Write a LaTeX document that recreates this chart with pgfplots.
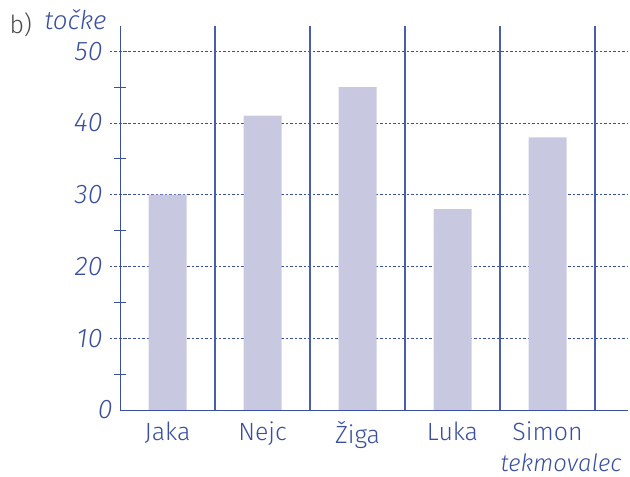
\documentclass[border=0pt]{standalone}
\usepackage{pgfplots}
\pgfplotsset{compat=1.18}
\usepackage{fontspec}
\setmainfont{Fira Sans}[UprightFont=* Light, ItalicFont=* Light Italic]
\definecolor{axblue}{HTML}{3A4FA0}
\definecolor{barc}{HTML}{C8C8E0}
\definecolor{sepblue}{HTML}{4A5EAE}
\begin{document}
\begin{tikzpicture}
\useasboundingbox (-120bp,-67bp) rectangle (510bp,410bp);
\begin{axis}[
  scale only axis, width=508bp, height=384bp,
  xmin=-0.5, xmax=4.847, ymin=0, ymax=53.5,
  clip=false,
  /pgf/number format/assume math mode=true,
  axis lines=left,
  axis line style={axblue, line width=0.9pt, -},
  xtick={0,1,2,3,4},
  xticklabels={Jaka,Nejc,Žiga,Luka,Simon},
  xtick style={draw=none},
  xticklabel style={axblue, font=\fontsize{25}{28}\selectfont, yshift=2bp},
  ytick={10,20,30,40,50},
  minor ytick={5,15,25,35,45},
  tick align=center,
  major tick length=20bp,
  minor tick length=12bp,
  major tick style={axblue, dash pattern=on 2.5pt off 2pt, line width=0.6pt},
  minor tick style={axblue, solid, line width=0.8pt},
  ymajorgrids,
  major grid style={axblue, dash pattern=on 2.5pt off 2pt, line width=0.6pt},
  yticklabel style={axblue, font=\fontsize{27}{30}\selectfont\itshape, xshift=-4bp},
  extra y ticks={0},
  extra y tick style={ymajorgrids=false, major tick length=0pt},
  extra x ticks={0.5,1.5,2.5,3.5,4.5},
  extra x tick labels={},
  extra x tick style={xmajorgrids=true, major grid style={sepblue, solid, line width=1.1pt}, major tick length=0pt},
]
\addplot[ybar, bar width=38bp, fill=barc, draw=none] coordinates {(0,30) (1,41) (2,45) (3,28) (4,38)};
\node[anchor=base east, xshift=-10bp, yshift=-4bp, axblue, font=\fontsize{26}{28}\selectfont\itshape] at (rel axis cs:0,1) {točke};
\node[anchor=base west, xshift=-114bp, yshift=376bp, black!70, font=\fontsize{25}{28}\selectfont] at (rel axis cs:0,0) {b)};
\node[anchor=base east, yshift=-61bp, axblue, font=\fontsize{24}{28}\selectfont\itshape] at (rel axis cs:0.994,0) {tekmovalec};
\end{axis}
\end{tikzpicture}
\end{document}
